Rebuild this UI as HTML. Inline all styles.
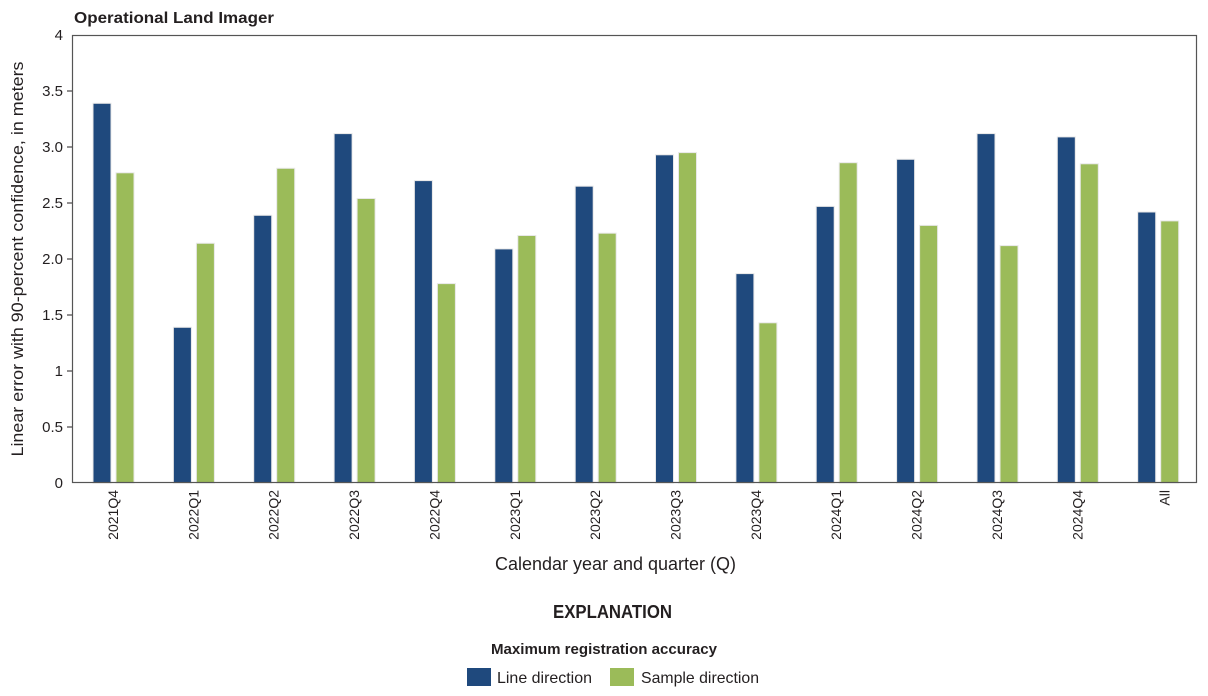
<!DOCTYPE html>
<html><head><meta charset="utf-8"><style>
body{margin:0;background:#fff}
svg text{font-family:"Liberation Sans Narrow","Liberation Sans",sans-serif;fill:#231f20}
</style></head><body>
<svg width="1208" height="691" xmlns="http://www.w3.org/2000/svg">
<text x="74" y="23" font-size="16" font-weight="bold" textLength="200" lengthAdjust="spacingAndGlyphs">Operational Land Imager</text>
<g font-size="15" text-anchor="end">
<text x="63" y="488">0</text>
<text x="63" y="432">0.5</text>
<text x="63" y="376">1</text>
<text x="63" y="320">1.5</text>
<text x="63" y="264">2.0</text>
<text x="63" y="208">2.5</text>
<text x="63" y="152">3.0</text>
<text x="63" y="96">3.5</text>
<text x="63" y="40">4</text>
</g>
<g stroke="#231f20" stroke-width="1">
<line x1="67" y1="427" x2="72" y2="427"/><line x1="67" y1="371" x2="72" y2="371"/>
<line x1="67" y1="315" x2="72" y2="315"/><line x1="67" y1="259" x2="72" y2="259"/>
<line x1="67" y1="203" x2="72" y2="203"/><line x1="67" y1="147" x2="72" y2="147"/>
<line x1="67" y1="91" x2="72" y2="91"/>
</g>
<text transform="translate(23,259) rotate(-90)" font-size="17" text-anchor="middle" textLength="395" lengthAdjust="spacingAndGlyphs">Linear error with 90-percent confidence, in meters</text>
<g stroke="#e8e8e8" stroke-width="1">
<g fill="#1f497d">
<rect x="93" y="103.3" width="18" height="379.7"/>
<rect x="173.4" y="327.3" width="18" height="155.7"/>
<rect x="253.7" y="215.3" width="18" height="267.7"/>
<rect x="334.1" y="133.6" width="18" height="349.4"/>
<rect x="414.4" y="180.6" width="18" height="302.4"/>
<rect x="494.8" y="248.9" width="18" height="234.1"/>
<rect x="575.2" y="186.2" width="18" height="296.8"/>
<rect x="655.5" y="154.8" width="18" height="328.2"/>
<rect x="735.9" y="273.6" width="18" height="209.4"/>
<rect x="816.2" y="206.4" width="18" height="276.6"/>
<rect x="896.6" y="159.3" width="18" height="323.7"/>
<rect x="977" y="133.6" width="18" height="349.4"/>
<rect x="1057.3" y="136.9" width="18" height="346.1"/>
<rect x="1137.7" y="212" width="18" height="271"/>
</g>
<g fill="#9bbb59">
<rect x="116" y="172.8" width="18" height="310.2"/>
<rect x="196.4" y="243.3" width="18" height="239.7"/>
<rect x="276.7" y="168.3" width="18" height="314.7"/>
<rect x="357.1" y="198.5" width="18" height="284.5"/>
<rect x="437.4" y="283.6" width="18" height="199.4"/>
<rect x="517.8" y="235.5" width="18" height="247.5"/>
<rect x="598.2" y="233.2" width="18" height="249.8"/>
<rect x="678.5" y="152.6" width="18" height="330.4"/>
<rect x="758.9" y="322.8" width="18" height="160.2"/>
<rect x="839.2" y="162.7" width="18" height="320.3"/>
<rect x="919.6" y="225.4" width="18" height="257.6"/>
<rect x="1000" y="245.6" width="18" height="237.4"/>
<rect x="1080.3" y="163.8" width="18" height="319.2"/>
<rect x="1160.7" y="220.9" width="18" height="262.1"/>
</g>
</g>
<rect x="72.5" y="35.5" width="1124" height="447" fill="none" stroke="#555" stroke-width="1.2"/>
<g font-size="14" text-anchor="end">
<text transform="translate(118,490) rotate(-90)">2021Q4</text>
<text transform="translate(198.4,490) rotate(-90)">2022Q1</text>
<text transform="translate(278.7,490) rotate(-90)">2022Q2</text>
<text transform="translate(359.1,490) rotate(-90)">2022Q3</text>
<text transform="translate(439.4,490) rotate(-90)">2022Q4</text>
<text transform="translate(519.8,490) rotate(-90)">2023Q1</text>
<text transform="translate(600.2,490) rotate(-90)">2023Q2</text>
<text transform="translate(680.5,490) rotate(-90)">2023Q3</text>
<text transform="translate(760.9,490) rotate(-90)">2023Q4</text>
<text transform="translate(841.2,490) rotate(-90)">2024Q1</text>
<text transform="translate(921.6,490) rotate(-90)">2024Q2</text>
<text transform="translate(1002,490) rotate(-90)">2024Q3</text>
<text transform="translate(1082.3,490) rotate(-90)">2024Q4</text>
<text transform="translate(1169.7,490) rotate(-90)">All</text>
</g>
<text x="495" y="570" font-size="18" textLength="241" lengthAdjust="spacingAndGlyphs">Calendar year and quarter (Q)</text>
<text x="553" y="618" font-size="18" font-weight="bold" textLength="119" lengthAdjust="spacingAndGlyphs">EXPLANATION</text>
<text x="491" y="654" font-size="15" font-weight="bold" textLength="226" lengthAdjust="spacingAndGlyphs">Maximum registration accuracy</text>
<rect x="467" y="668" width="24" height="18" fill="#1f497d"/>
<text x="497" y="683" font-size="16" textLength="95" lengthAdjust="spacingAndGlyphs">Line direction</text>
<rect x="610" y="668" width="24" height="18" fill="#9bbb59"/>
<text x="641" y="683" font-size="16" textLength="118" lengthAdjust="spacingAndGlyphs">Sample direction</text>
</svg>
</body></html>
